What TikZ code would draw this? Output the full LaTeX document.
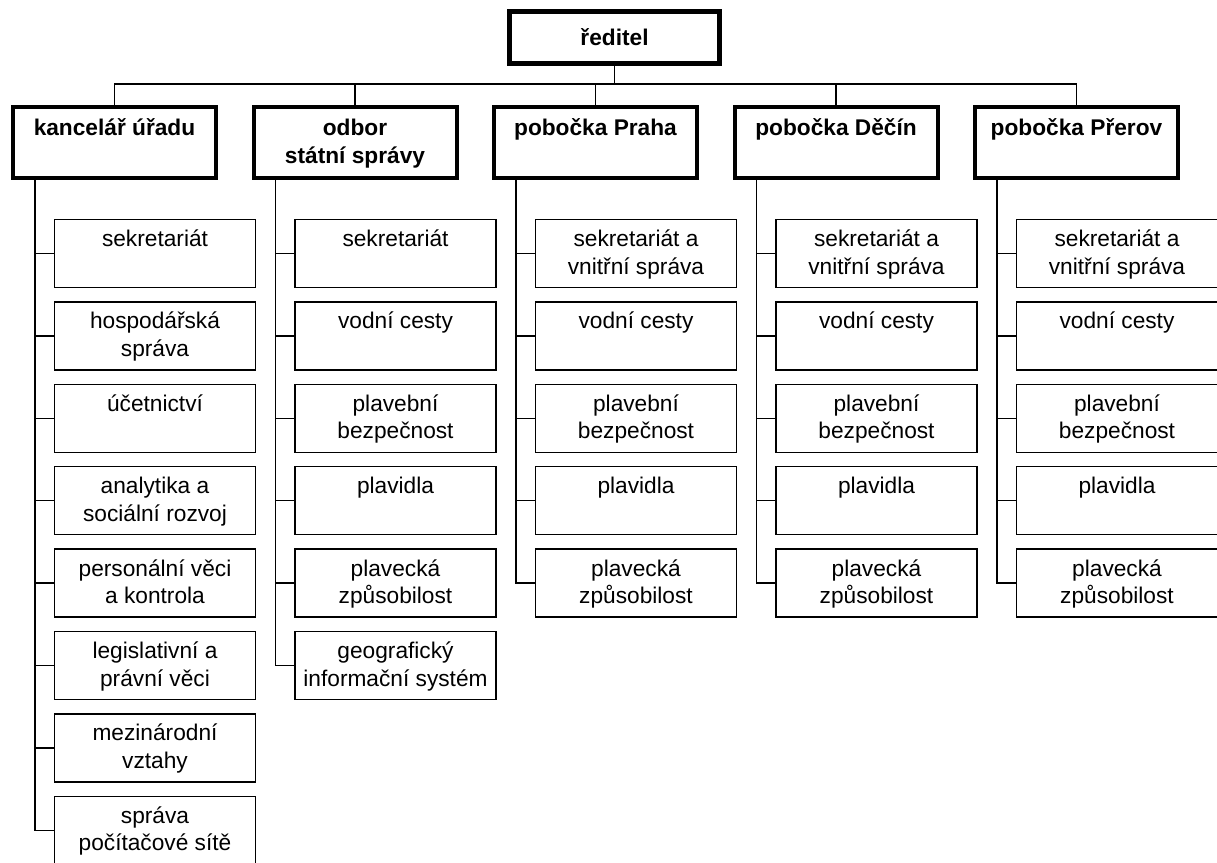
\documentclass[tikz,border=0pt]{standalone}
\usepackage{fontspec}
\setmainfont{Liberation Sans}
\newcommand\boxstrut{\rule[-7pt]{0pt}{27.5pt}}

\begin{document}
\begin{tikzpicture}[x=1pt, y=-1pt,
  every node/.style={align=center, inner sep=0pt, font=\fontsize{22.7}{27.5}\selectfont},
  director/.style={draw, line width=4pt, minimum width=211, minimum height=53,
    font=\fontsize{22.7}{27.5}\selectfont\bfseries},
  head/.style={draw, line width=4pt, minimum width=203, minimum height=71,
    font=\fontsize{22.7}{27.5}\selectfont\bfseries},
  unit/.style={draw, line width=1.3pt, minimum width=201, minimum height=68},
  link/.style={line width=1.3pt}]

\useasboundingbox (0,0) rectangle (1217,862);
\clip (0,0) rectangle (1217,862);

% Director
\node [director] (reditel) at (614.5,37.5) {ředitel};
\draw [link] ([shift={(4.5,4.5)}]reditel.north west) rectangle ([shift={(-4.5,-4.5)}]reditel.south east);

% Section heads
\foreach \m [count=\x] in {kancelář úřadu\\, odbor\\státní správy, pobočka Praha\\, pobočka Děčín\\, pobočka Přerov\\}
  \node [head] (head-\x) at (114.5+240.5*\x-240.5,142.5) {\boxstrut\m\boxstrut};

% Units of the office
\foreach \m [count=\y] in {sekretariát\\, hospodářská\\správa, účetnictví\\, analytika a\\sociální rozvoj,
    personální věci\\a kontrola, legislativní a\\právní věci, mezinárodní\\vztahy, správa\\počítačové sítě}
  \node [unit] (unit-1-\y) at (155,253.5+82.4*\y-82.4) {\boxstrut\m\boxstrut};

% Units of the state administration
\foreach \m [count=\y] in {sekretariát\\, vodní cesty\\, plavební\\bezpečnost, plavidla\\,
    plavecká\\způsobilost, geografický\\informační systém}
  \node [unit] (unit-2-\y) at (395.5,253.5+82.4*\y-82.4) {\boxstrut\m\boxstrut};

% Units of the branches
\foreach \x in {3,4,5}
  \foreach \m [count=\y] in {sekretariát a\\vnitřní správa, vodní cesty\\, plavební\\bezpečnost, plavidla\\,
      plavecká\\způsobilost}
    \node [unit] (unit-\x-\y) at (155+240.5*\x-240.5,253.5+82.4*\y-82.4) {\boxstrut\m\boxstrut};

% Director to section heads
\coordinate (bus) at (0,84);
\draw [link] (reditel.south) -- (reditel.south |- bus);
\draw [link] (head-1.north) |- (head-5.north |- bus) -- (head-5.north);
\foreach \x in {2,3,4}
  \draw [link] (head-\x.north) -- (head-\x.north |- bus);

% Section heads to units
\foreach \x/\n in {1/8,2/6,3/5,4/5,5/5} {
  \coordinate (branch-\x) at ([xshift=24pt]head-\x.south west);
  \draw [link] (branch-\x) |- (unit-\x-\n.west);
  \foreach \y in {1,...,\n}
    \draw [link] (unit-\x-\y.west) -- (unit-\x-\y.west -| branch-\x);
}

\end{tikzpicture}
\end{document}
